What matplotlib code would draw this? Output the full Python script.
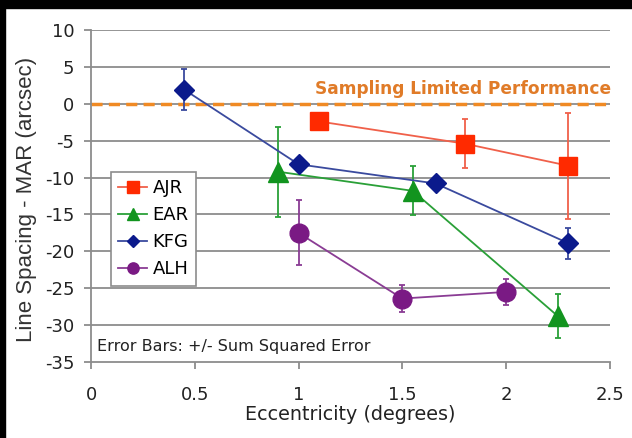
import matplotlib
matplotlib.use('Agg')
import matplotlib.pyplot as plt
from matplotlib.patches import Rectangle

plt.rcParams['font.family'] = ['DejaVu Sans']
plt.rcParams['axes.unicode_minus'] = False

# eccentricity (deg), line spacing - MAR (arcsec), +/- error
ajr_x = [1.1, 1.8, 2.3]
ajr_y = [-2.4, -5.4, -8.4]
ajr_err = [0.0, 3.3, 7.2]

ear_x = [0.9, 1.55, 2.25]
ear_y = [-9.2, -11.8, -28.8]
ear_err = [6.1, 3.3, 3.0]

kfg_x = [0.45, 1.0, 1.66, 2.3]
kfg_y = [1.9, -8.2, -10.8, -18.9]
kfg_err = [2.8, 0.0, 0.0, 2.1]

alh_x = [1.0, 1.5, 2.0]
alh_y = [-17.5, -26.4, -25.5]
alh_err = [4.4, 1.8, 1.8]

series = [
    ('AJR', ajr_x, ajr_y, ajr_err, '#FF2A00', '#F0604A', 's', 13.5),
    ('EAR', ear_x, ear_y, ear_err, '#12941F', '#2AA038', '^', 14),
    ('KFG', kfg_x, kfg_y, kfg_err, '#0B1A8C', '#3A4A9E', 'D', 10),
    ('ALH', alh_x, alh_y, alh_err, '#7A1A84', '#8A3C94', 'o', 13.5),
]

fig = plt.figure(figsize=(6.32, 4.38), dpi=100)
ax = fig.add_axes([0.144, 0.1735, 0.821, 0.758])

# black frame bits (top and left edge of the cropped image)
fig.patches.append(Rectangle((0, 1 - 8 / 438), 1, 8 / 438, transform=fig.transFigure,
                             color='black', zorder=10))
fig.patches.append(Rectangle((0, 0), 5 / 632, 1, transform=fig.transFigure,
                             color='black', zorder=10))

for y in range(-30, 15, 5):
    ax.axhline(y, color='#8C8C8C', linewidth=1.3, zorder=0)

ax.axhline(0, color='#F08A24', linewidth=2.5, dashes=(3.2, 1.8), zorder=1)
ax.text(2.505, 0.8, 'Sampling Limited Performance', color='#E07B28', fontsize=12.25,
        fontweight='bold', ha='right', va='bottom')

for name, xs, ys, errs, mcol, lcol, mk, ms in series:
    ax.plot(xs, ys, color=lcol, linewidth=1.3, zorder=2)
    ax.errorbar(xs, ys, yerr=errs, fmt='none', ecolor=lcol, elinewidth=1.3,
                capsize=2, capthick=1.3, zorder=2)
    ax.plot(xs, ys, linestyle='none', marker=mk, markersize=ms, color=mcol,
            markeredgecolor=mcol, zorder=3)
    ax.plot([], [], color=lcol, linewidth=1.3, marker=mk, markersize=ms * 0.6,
            markerfacecolor=mcol, markeredgecolor=mcol, label=name)

ax.set_xlim(0, 2.5)
ax.set_ylim(-35, 10)
ax.set_xticks([0, 0.5, 1, 1.5, 2, 2.5])
ax.set_xticklabels(['0', '0.5', '1', '1.5', '2', '2.5'])
ax.set_yticks(range(-35, 15, 5))
ax.tick_params(labelsize=13, colors='#8C8C8C', labelcolor='#222222', length=5, width=1.3)
ax.tick_params(axis='y', pad=7)
ax.tick_params(axis='x', pad=12)

for s in ['top', 'right']:
    ax.spines[s].set_visible(False)
for s in ['left', 'bottom']:
    ax.spines[s].set_color('#8C8C8C')
    ax.spines[s].set_linewidth(1.3)

ax.set_xlabel('Eccentricity (degrees)', fontsize=13.8, color='#222222', labelpad=1)
ax.set_ylabel('Line Spacing - MAR (arcsec)', fontsize=16, color='#333333',
              family='Liberation Sans')
ax.yaxis.set_label_coords(-54 / 519, 0.49)

ax.text(0.03, -32.9, 'Error Bars: +/- Sum Squared Error', fontsize=11.5, color='#222222',
        va='center')

leg = ax.legend(loc='upper left', bbox_to_anchor=(111 / 632, 1 - 172 / 438),
                bbox_transform=fig.transFigure, fontsize=13, fancybox=False,
                framealpha=1, edgecolor='#8C8C8C', handlelength=1.6,
                borderpad=0.4, labelspacing=0.5, handletextpad=0.3,
                borderaxespad=0)
leg.get_frame().set_linewidth(1.2)

fig.savefig('out.png', dpi=100)
